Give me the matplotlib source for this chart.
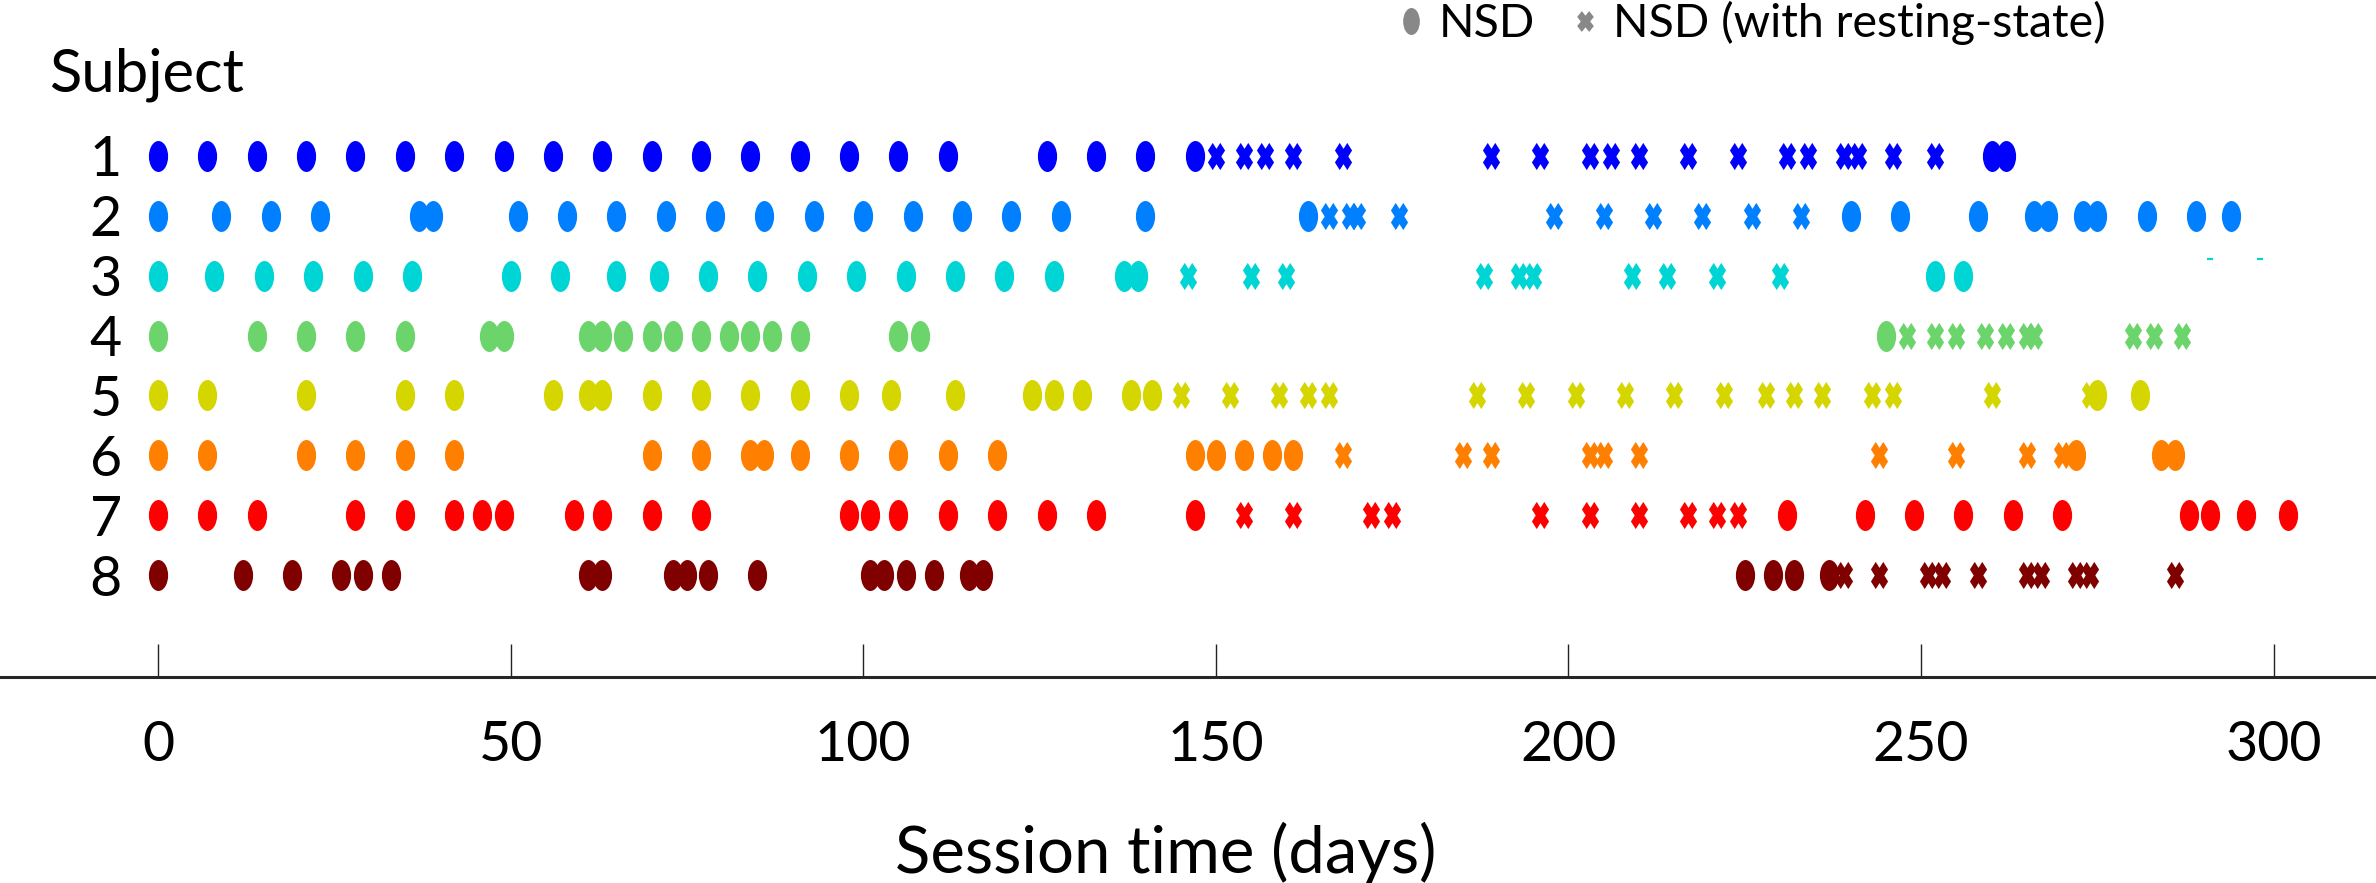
import matplotlib
matplotlib.use("Agg")
import matplotlib.pyplot as plt
from matplotlib.path import Path
from matplotlib.lines import Line2D

plt.rcParams['font.family'] = ['Lato', 'DejaVu Sans']

# session days per subject: plain NSD sessions and sessions with resting-state
s1_nsd = [0, 7, 14, 21, 28, 35, 42, 49, 56, 63, 70, 77, 84, 91, 98, 105, 112, 126, 133, 140, 147, 260, 262]
s1_rest = [150, 154, 157, 161, 168, 189, 196, 203, 206, 210, 217, 224, 231, 234, 239, 241, 246, 252]
s2_nsd = [0, 9, 16, 23, 37, 39, 51, 58, 65, 72, 79, 86, 93, 100, 107, 114, 121, 128, 140, 163,
          240, 247, 258, 266, 268, 273, 275, 282, 289, 294]
s2_rest = [166, 169, 170, 176, 198, 205, 212, 219, 226, 233]
s3_nsd = [0, 8, 15, 22, 29, 36, 50, 57, 65, 71, 78, 85, 92, 99, 106, 113, 120, 127, 137, 139, 252, 256]
s3_rest = [146, 155, 160, 188, 193, 195, 209, 214, 221, 230]
s3_dash = [291, 298]
s4_nsd = [0, 14, 21, 28, 35, 47, 49, 61, 63, 66, 70, 73, 77, 81, 84, 87, 91, 105, 108, 245]
s4_rest = [248, 252, 255, 259, 262, 265, 266, 280, 283, 287]
s5_nsd = [0, 7, 21, 35, 42, 56, 61, 63, 70, 77, 84, 91, 98, 104, 113, 124, 127, 131, 138, 141, 275, 281]
s5_rest = [145, 152, 159, 163, 166, 187, 194, 201, 208, 215, 222, 228, 232, 236, 243, 246, 260, 274]
s6_nsd = [0, 7, 21, 28, 35, 42, 70, 77, 84, 86, 91, 98, 105, 112, 119, 147, 150, 154, 158, 161,
          272, 284, 286]
s6_rest = [168, 185, 189, 203, 205, 210, 244, 255, 265, 270]
s7_nsd = [0, 7, 14, 28, 35, 42, 46, 49, 59, 63, 70, 77, 98, 101, 105, 112, 119, 126, 133, 147,
          231, 242, 249, 256, 263, 270, 288, 291, 296, 302]
s7_rest = [154, 161, 172, 175, 196, 203, 210, 217, 221, 224]
s8_nsd = [0, 12, 19, 26, 29, 33, 61, 63, 73, 75, 78, 85, 101, 103, 106, 110, 115, 117, 225, 229, 232, 237]
s8_rest = [239, 244, 251, 253, 258, 265, 267, 272, 274, 286]

subjects = [1, 2, 3, 4, 5, 6, 7, 8]
colores = ['#0000ff', '#0080ff', '#00d5d5', '#6bd56b', '#d5d500', '#ff8000', '#ff0000', '#800000']
x_ticks = [0, 50, 100, 150, 200, 250, 300]

nsd = [s1_nsd, s2_nsd, s3_nsd, s4_nsd, s5_nsd, s6_nsd, s7_nsd, s8_nsd]
rest = [s1_rest, s2_rest, s3_rest, s4_rest, s5_rest, s6_rest, s7_rest, s8_rest]


def cruz_gruesa(k, ancho):
    # filled cross with thicker arms, squeezed horizontally
    v = [(-0.5 + k, -0.5), (0, -k), (0.5 - k, -0.5), (0.5, -0.5 + k), (k, 0), (0.5, 0.5 - k),
         (0.5 - k, 0.5), (0, k), (-0.5 + k, 0.5), (-0.5, 0.5 - k), (-k, 0), (-0.5, -0.5 + k),
         (-0.5 + k, -0.5)]
    v = [(x * ancho, y) for x, y in v]
    return Path(v, closed=True)


circ = Path.unit_circle()
elipse = Path(circ.vertices * [0.62, 1.0], circ.codes)
cruz = cruz_gruesa(0.28, 0.63)
cruz_leg = cruz_gruesa(0.28, 0.8)

fig = plt.figure(figsize=(23.76, 8.83), dpi=100)
ax = fig.add_axes([0, 206 / 883, 1, 581 / 883])

for s, c, d_nsd, d_rest in zip(subjects, colores, nsd, rest):
    ax.plot(d_rest, [s] * len(d_rest), ls='none', marker=cruz, ms=19.6, mew=0, color=c)
    ax.plot(d_nsd, [s] * len(d_nsd), ls='none', marker=elipse, ms=22.3, mew=0, color=c)

ax.plot(s3_dash, [3 - 0.28] * len(s3_dash), ls='none', marker='_', ms=4, mew=1.6, color=colores[2])

ax.set_xlim(-22.4, 314.5)
ax.set_ylim(9.7, 0)

for lado in ['left', 'top', 'right']:
    ax.spines[lado].set_visible(False)
ax.spines['bottom'].set_linewidth(2.2)
ax.spines['bottom'].set_color('#262626')

ax.set_xticks(x_ticks)
ax.tick_params(axis='x', direction='in', length=24, width=1, color='#222222', pad=31, labelsize=40)
ax.set_yticks(subjects)
ax.tick_params(axis='y', length=0, pad=-87.8, labelsize=40)

ax.set_ylabel('Subject', rotation=0, fontsize=43, ha='left', va='baseline')
ax.yaxis.set_label_coords(49 / 2376, 1.0069)
ax.set_xlabel('Session time (days)', fontsize=47, va='baseline')
ax.xaxis.set_label_coords(0.4905, -0.3373)

handles = [
    Line2D([], [], ls='none', marker=elipse, ms=19.4, mew=0, color='#888888'),
    Line2D([], [], ls='none', marker=cruz_leg, ms=15, mew=0, color='#888888'),
]
fig.legend(handles, ['NSD', 'NSD (with resting-state)'], loc='center left',
           bbox_to_anchor=(1398.4 / 2376, 1 - 23 / 883), ncol=2, frameon=False,
           fontsize=33.5, handlelength=0.55, handletextpad=0.32, columnspacing=0.8,
           borderpad=0, borderaxespad=0)

fig.savefig('out.png', dpi=100)
